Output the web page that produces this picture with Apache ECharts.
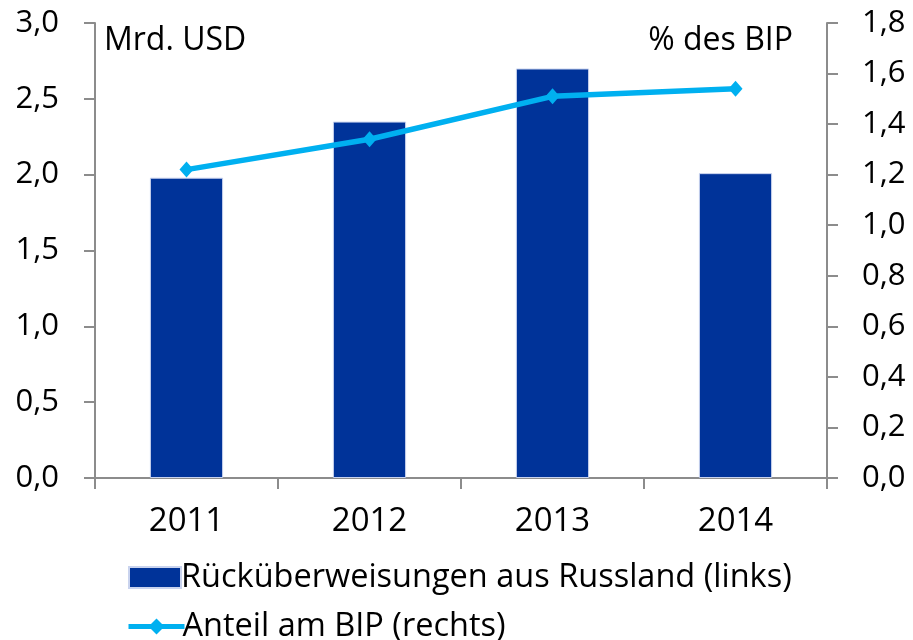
<!DOCTYPE html>
<html>
<head>
<meta charset="utf-8">
<script src="https://cdn.jsdelivr.net/npm/echarts@6/dist/echarts.min.js"></script>
<style>
    html, body { margin: 0; padding: 0; background: #fff; }
    #chart { width: 913px; height: 640px; }
</style>
</head>
<body>
<div id="chart"></div>
<script>
// Daten
var years = ['2011', '2012', '2013', '2014'];
var remittances = [1.98, 2.35, 2.70, 2.01];   // Mrd. USD (links)
var shareOfGdp = [1.22, 1.34, 1.51, 1.54];    // % des BIP (rechts)
var leftTicks = [0, 3, 0.5];                  // min, max, interval
var rightTicks = [0, 1.8, 0.2];

var font = '"Open Sans", sans-serif';
var axisGray = '#8c8c8c';

function comma(v) {
    return v.toFixed(1).replace('.', ',');
}

var myChart = echarts.init(document.getElementById('chart'));
var option = {
    animation: false,
    textStyle: { fontFamily: font },
    grid: { left: 95, right: 86, top: 23, bottom: 162 },
    graphic: [
        { type: 'text', left: 104, top: 25, style: { text: 'Mrd. USD', font: '32px ' + font, fill: '#000' } },
        { type: 'text', right: 120, top: 25, style: { text: '% des BIP', font: '32px ' + font, fill: '#000' } }
    ],
    legend: [
        {
            data: [{ name: 'Rücküberweisungen aus Russland (links)', icon: 'rect' }],
            left: 128, top: 561, padding: 0, itemWidth: 52, itemHeight: 21, itemGap: 6,
            textStyle: { fontSize: 32.5, fontFamily: font, color: '#000', padding: [0, 0, 0, -5] }
        },
        {
            data: ['Anteil am BIP (rechts)'],
            left: 126, top: 610, padding: 0, itemWidth: 56, itemHeight: 20, itemGap: 6,
            lineStyle: { width: 5 },
            textStyle: { fontSize: 32.5, fontFamily: font, color: '#000', padding: [0, 0, 0, -7] }
        }
    ],
    xAxis: {
        type: 'category',
        data: years,
        axisLine: { lineStyle: { color: axisGray, width: 2 } },
        axisTick: { show: true, length: 11, lineStyle: { color: axisGray, width: 2 } },
        axisLabel: { fontSize: 33, color: '#000', margin: 27, fontFamily: font }
    },
    yAxis: [
        {
            type: 'value', position: 'left',
            min: leftTicks[0], max: leftTicks[1], interval: leftTicks[2],
            splitLine: { show: false },
            axisLine: { show: true, lineStyle: { color: axisGray, width: 2 } },
            axisTick: { show: true, length: 11, lineStyle: { color: axisGray, width: 2 } },
            axisLabel: { fontSize: 31, color: '#000', margin: 36, fontFamily: font, formatter: comma }
        },
        {
            type: 'value', position: 'right',
            min: rightTicks[0], max: rightTicks[1], interval: rightTicks[2],
            splitLine: { show: false },
            axisLine: { show: true, lineStyle: { color: axisGray, width: 2 } },
            axisTick: { show: true, length: 11, lineStyle: { color: axisGray, width: 2 } },
            axisLabel: { fontSize: 31, color: '#000', margin: 35, fontFamily: font, formatter: comma }
        }
    ],
    series: [
        {
            name: 'Rücküberweisungen aus Russland (links)',
            type: 'bar',
            yAxisIndex: 0,
            data: remittances,
            barWidth: '40%',
            itemStyle: { color: '#003399', borderColor: '#c9d3ee', borderWidth: 1 }
        },
        {
            name: 'Anteil am BIP (rechts)',
            type: 'line',
            yAxisIndex: 1,
            data: shareOfGdp,
            symbol: 'diamond',
            symbolSize: [14, 16],
            lineStyle: { color: '#00b0f0', width: 5.5 },
            itemStyle: { color: '#00b0f0' }
        }
    ]
};
myChart.setOption(option);
</script>
</body>
</html>
